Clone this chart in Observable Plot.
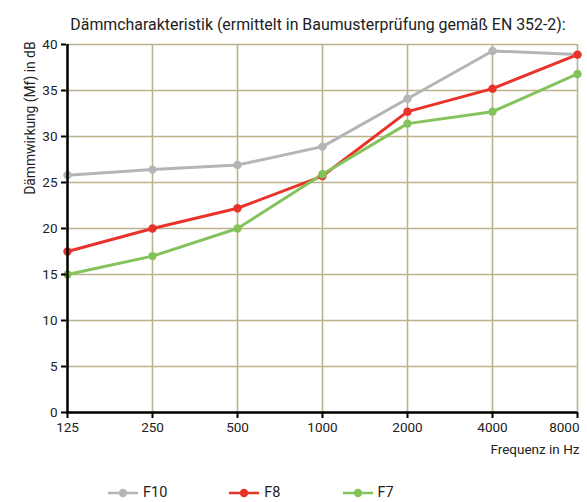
<!DOCTYPE html>
<html>
<head>
<meta charset="utf-8">
<script src="https://cdn.jsdelivr.net/npm/d3@7"></script>
<script src="https://cdn.jsdelivr.net/npm/@observablehq/plot@0.6"></script>
<style>
  html, body { margin: 0; padding: 0; background: #fff; }
  body { width: 587px; height: 502px; overflow: hidden; font-family: Roboto, "Noto Sans", sans-serif; }
  #legend { display: flex; gap: 62px; padding-left: 108px; height: 27px; align-items: center; font-size: 14.5px; color: #222; margin-top: 4px; }
  .item { display: flex; align-items: center; gap: 5px; }
</style>
</head>
<body>
<div id="chart"></div>
<div id="legend"></div>
<script>
const freqs = ["125", "250", "500", "1000", "2000", "4000", "8000"];
const f10 = [25.8, 26.4, 26.9, 28.9, 34.1, 39.3, 38.9];
const f8  = [17.5, 20.0, 22.2, 25.7, 32.7, 35.2, 38.9];
const f7  = [15.0, 17.0, 20.0, 25.9, 31.4, 32.7, 36.8];
const seriesNames = ["F10", "F8", "F7"];
const seriesColors = ["#b4b5b6", "#e8322a", "#84c35b"];
const yTicks = [0, 5, 10, 15, 20, 25, 30, 35, 40];
const title = "Dämmcharakteristik (ermittelt in Baumusterprüfung gemäß EN 352-2):";
const xLabel = "Frequenz in Hz";
const yLabel = "Dämmwirkung (Mf) in dB";

const seriesValues = [f10, f8, f7];
const rows = [];
seriesNames.forEach((s, i) => freqs.forEach((f, j) => rows.push({series: s, freq: f, value: seriesValues[i][j]})));

const gridColor = "#bbb38a";
const colorScale = {domain: seriesNames, range: seriesColors};
const lastFreq = freqs[freqs.length - 1];

const chart = Plot.plot({
  width: 587,
  height: 475,
  marginLeft: 66,
  marginRight: 10,
  marginTop: 44,
  marginBottom: 63,
  style: {fontFamily: "Roboto, 'Noto Sans', sans-serif", fontSize: "13px", color: "#222"},
  x: {type: "point", domain: freqs, padding: 0},
  y: {domain: [0, 40]},
  color: colorScale,
  marks: [
    Plot.gridX(freqs, {stroke: gridColor, strokeOpacity: 1, strokeWidth: 1.6}),
    Plot.gridY(yTicks, {stroke: gridColor, strokeOpacity: 1, strokeWidth: 1.6}),
    Plot.line(rows, {x: "freq", y: "value", z: "series", stroke: "series", strokeWidth: 3}),
    Plot.dot(rows, {x: "freq", y: "value", fill: "series", r: 4.2}),
    Plot.ruleY([0], {stroke: "#000", strokeWidth: 2.5}),
    Plot.ruleX([freqs[0]], {stroke: "#000", strokeWidth: 2.5}),
    Plot.axisY(yTicks, {tickSize: 5, tickPadding: 4, strokeWidth: 2, stroke: "#000", fontSize: 13.5, label: null}),
    Plot.axisX(freqs, {tickSize: 6, strokeWidth: 2, stroke: "#000", text: null, label: null}),
    Plot.axisX(freqs.slice(0, -1), {tickSize: 0, tickPadding: 10, fontSize: 13.5, label: null}),
    Plot.axisX([lastFreq], {tickSize: 0, tickPadding: 10, fontSize: 13.5, textAnchor: "end", dx: 2, label: null}),
    Plot.text([title], {text: d => d, frameAnchor: "top", dx: -4, dy: -26, fontSize: 15.9, fill: "#222"}),
    Plot.text([xLabel], {text: d => d, frameAnchor: "bottom-right", textAnchor: "end", dx: 2, dy: 41, fontSize: 13.5, fill: "#222"}),
    Plot.text([yLabel], {text: d => d, frameAnchor: "top-left", rotate: -90, textAnchor: "end", dx: -41, dy: -3, fontSize: 13.8, fill: "#222"})
  ]
});
document.getElementById("chart").appendChild(chart);

const legend = document.getElementById("legend");
seriesNames.forEach((name, i) => {
  const item = document.createElement("div");
  item.className = "item";
  item.innerHTML = `<svg width="30" height="12"><line x1="0" x2="30" y1="6" y2="6" stroke="${seriesColors[i]}" stroke-width="2.5"/><circle cx="15" cy="6" r="4.2" fill="${seriesColors[i]}"/></svg><span>${name}</span>`;
  legend.appendChild(item);
});
</script>
</body>
</html>
